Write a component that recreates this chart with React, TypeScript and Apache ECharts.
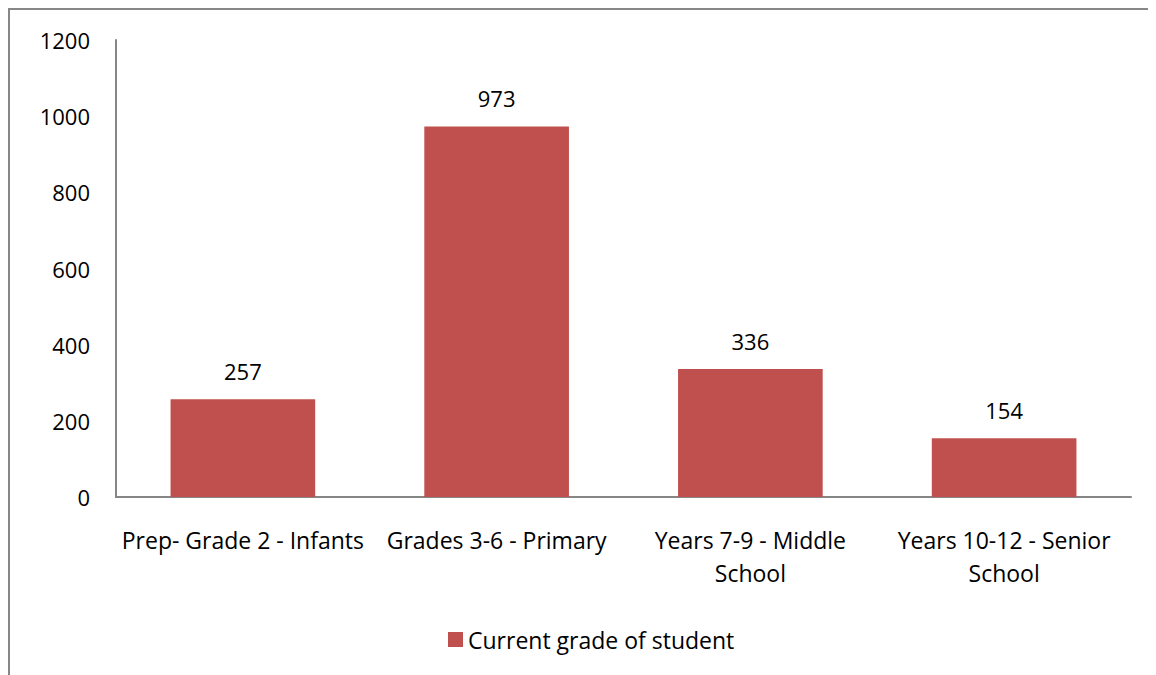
import React, { useEffect, useRef } from "react";
import * as echarts from "echarts";

const categories = [
  "Prep- Grade 2 - Infants",
  "Grades 3-6 - Primary",
  "Years 7-9 - Middle\nSchool",
  "Years 10-12 - Senior\nSchool",
];
const values = [257, 973, 336, 154];
const seriesName = "Current grade of student";
const yTicks = { min: 0, max: 1200, interval: 200 };

const FONT = "'Open Sans', 'Noto Sans', sans-serif";
const FS = 23;
const FSN = 22;

export default function App() {
  const ref = useRef<HTMLDivElement>(null);
  useEffect(() => {
    document.documentElement.style.overflow = "hidden";
    const chart = echarts.init(ref.current!, null, { renderer: "svg" });
    chart.setOption({
      animation: false,
      textStyle: { fontFamily: FONT },
      graphic: [
        { type: "line", shape: { x1: 0, y1: 1, x2: 1148, y2: 1 }, style: { stroke: "#878787", lineWidth: 2 } },
        { type: "line", shape: { x1: 1, y1: 0, x2: 1, y2: 667 }, style: { stroke: "#878787", lineWidth: 2 } },
      ],
      grid: { left: 108, top: 32, right: 25, bottom: 178, containLabel: false },
      legend: {
        data: [seriesName],
        bottom: 19,
        left: 435,
        itemWidth: 15,
        itemHeight: 15,
        itemGap: 7,
        icon: "rect",
        textStyle: { fontSize: FS, color: "#000", fontFamily: FONT },
      },
      xAxis: {
        type: "category",
        data: categories,
        axisLine: { lineStyle: { color: "#868686", width: 2 } },
        axisTick: { show: false },
        axisLabel: { color: "#000", fontSize: FS, margin: 26, lineHeight: 33, interval: 0, fontFamily: FONT },
      },
      yAxis: {
        type: "value",
        min: yTicks.min,
        max: yTicks.max,
        interval: yTicks.interval,
        axisLine: { show: true, lineStyle: { color: "#868686", width: 2 } },
        axisTick: { show: false },
        splitLine: { show: false },
        axisLabel: { color: "#000", fontSize: FSN, margin: 26, fontFamily: FONT, formatter: (v: number) => String(v) },
      },
      series: [
        {
          name: seriesName,
          type: "bar",
          data: values,
          barWidth: "57%",
          itemStyle: { color: "#C0504D" },
          label: { show: true, position: "top", distance: 17, color: "#000", fontSize: FSN, fontFamily: FONT },
        },
      ],
    });
    return () => chart.dispose();
  }, []);
  return <div ref={ref} style={{ width: 1148, height: 667 }} />;
}
